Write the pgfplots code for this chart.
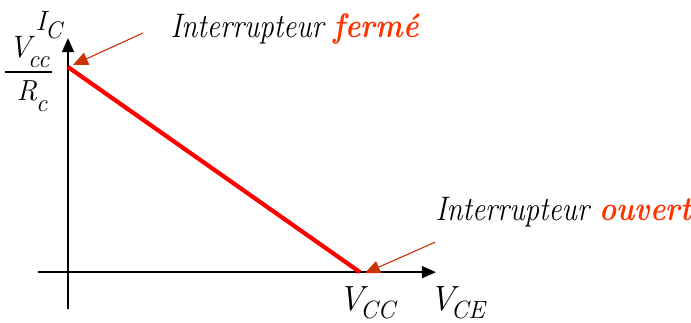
\documentclass[border=0pt]{standalone}
\usepackage{fontspec}
\usepackage{pgfplots}
\pgfplotsset{compat=1.18}
\usetikzlibrary{arrows.meta}
\definecolor{arr}{HTML}{CC3300}
\definecolor{txt}{HTML}{FF3300}
\newcommand{\fs}[1]{\fontsize{#1}{#1}\selectfont}
\begin{document}
\begin{tikzpicture}
\begin{axis}[
  scale only axis, width=398pt, height=271pt,
  xmin=-0.103, xmax=1.26, ymin=-0.18, ymax=1.141,
  axis lines=middle, xtick=\empty, ytick=\empty,
  axis line style={line width=1.4pt, -{Triangle[length=14pt,width=12pt]}},
  clip=false,
  every node/.style={inner sep=0pt, outer sep=0pt},
]
\addplot[red, line width=4.2pt] coordinates {(0,1) (1,0)};
% annotation arrows
\draw[arr, line width=1.1pt, -{Triangle[length=15pt,width=13pt]}] (axis cs:0.257,1.166) -- (axis cs:0.017,1.010);
\draw[arr, line width=1.1pt, -{Triangle[length=15pt,width=13pt]}] (axis cs:1.257,0.146) -- (axis cs:1.017,-0.005);
% texts
\node[anchor=base west] at (axis cs:0.339,1.1463) {\resizebox{248pt}{\height}{\fs{34}\itshape Interrupteur \textcolor{txt}{\bfseries fermé}}};
\node[anchor=base west] at (axis cs:1.2466,0.2537) {\resizebox{256pt}{\height}{\fs{34}\itshape Interrupteur \textcolor{txt}{\bfseries ouvert}}};
\node[anchor=base west] at (axis cs:0.915,-0.1854) {\itshape\fs{35}V\kern-4pt\raisebox{-8pt}{\fs{25}CC}};
\node[anchor=base west] at (axis cs:1.226,-0.1854) {\itshape\fs{35}V\kern-4pt\raisebox{-8pt}{\fs{25}CE}};
\node[anchor=base west] at (axis cs:-0.1233,1.1805) {\itshape\fs{28}I\kern-1pt\raisebox{-8pt}{\fs{24}C}};
\node[anchor=base west] at (axis cs:-0.2158,1.0488) {\itshape\fs{31}V\kern-3pt\raisebox{-10pt}{\fs{25}cc}};
\draw[line width=1.3pt] (axis cs:-0.2158,0.9756) -- (axis cs:-0.0548,0.9756);
\node[anchor=base west] at (axis cs:-0.1884,0.8390) {\itshape\fs{29}R\kern-1pt\raisebox{-11pt}{\fs{25}c}};
\coordinate (bl) at (axis cs:-0.2329,-0.2439);
\coordinate (tr) at (axis cs:2.1336,1.3268);
\end{axis}
\pgfresetboundingbox
\path[use as bounding box] (bl) rectangle (tr);
\end{tikzpicture}
\end{document}
